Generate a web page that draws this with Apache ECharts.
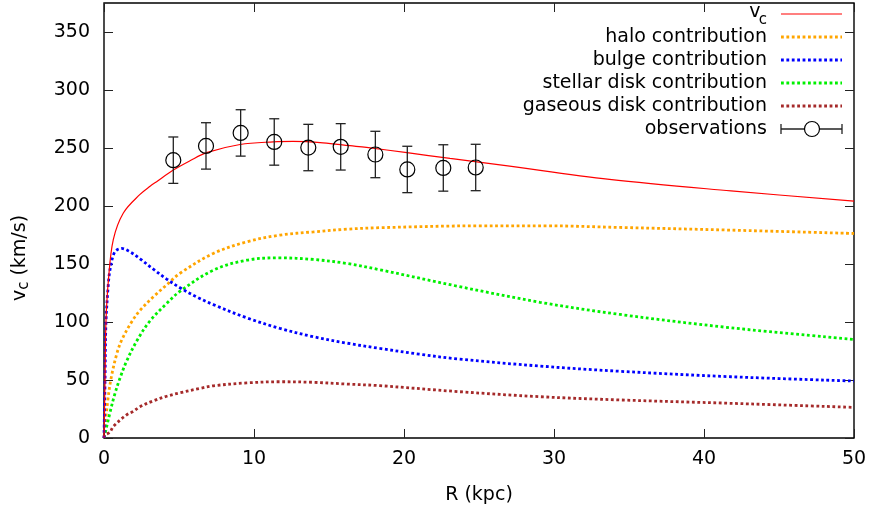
<!DOCTYPE html>
<html>
<head>
<meta charset="utf-8">
<script src="https://cdn.jsdelivr.net/npm/echarts@6/dist/echarts.min.js"></script>
<style>
  html, body { margin: 0; padding: 0; background: #fff; }
  #chart { width: 870px; height: 512px; }
</style>
</head>
<body>
<div id="chart"></div>
<script>
// Axis ticks
const xTicks = [0, 10, 20, 30, 40, 50];
const yTicks = [0, 50, 100, 150, 200, 250, 300, 350];

// Total circular velocity v_c (km/s) against R (kpc)
const vcR = [0, 0.07, 0.13, 0.3, 0.62, 1.29, 2.4, 3.07, 3.51, 4.62, 5.73, 6.84, 9.07, 11.29, 12.6, 14.6, 16.4, 17.5, 20.2, 23.07, 26.4, 33.7, 41.8, 50];
const vcV = [0, 50, 100, 137, 171, 194, 210, 217, 221, 231, 239, 246, 253, 255.3, 255.7, 254.5, 252, 250.5, 246, 241, 235.5, 222.9, 213, 204.2];

// Dark matter halo
const haloR = [0, 0.1, 0.25, 0.45, 0.84, 1.2, 1.84, 2.4, 3.29, 4.18, 5.07, 7.29, 9.51, 11.73, 13.96, 16.18, 18.4, 25.07, 29.5, 34.4, 41.8, 50];
const haloV = [0, 14, 32, 50, 72, 85, 100, 110, 121.7, 132, 142, 159.1, 169.1, 174.9, 177.7, 180, 181.3, 182.9, 182.9, 181.5, 179.2, 176.3];

// Bulge
const bulgeR = [0, 0.07, 0.13, 0.29, 0.4, 0.62, 0.84, 1.18, 1.73, 2.4, 3.29, 4.18, 5.07, 6.2, 7.29, 9.51, 11.73, 13.96, 16.18, 18.4, 21, 23.7, 29.07, 34.4, 41.8, 50];
const bulgeV = [0, 50, 99, 133, 145, 157.6, 162, 163.4, 160.5, 154.5, 145.5, 137, 129.5, 121.5, 115, 103.6, 94.5, 87.3, 81.8, 77.2, 72.3, 68, 62, 57.5, 52.8, 49.1];

// Stellar disk
const starR = [0, 0.1, 0.4, 0.7, 1.05, 1.5, 2.2, 3.07, 4.18, 5.07, 7.29, 9.51, 11.73, 13.96, 16.18, 18.4, 23.7, 29.07, 34.4, 41.8, 50];
const starV = [0, 5.5, 22, 37, 51, 66, 84, 101, 116, 126.5, 144.7, 153.3, 155.3, 153.9, 150.5, 145, 130.5, 117, 106.5, 95, 85];

// Gaseous disk
const gasR = [0, 0.07, 0.4, 0.62, 1.51, 1.96, 2.4, 3.29, 4.18, 5.07, 6.4, 7.29, 9.51, 11.73, 13.96, 16.18, 18.4, 23.7, 29.07, 34.4, 41.8, 50];
const gasV = [0, 2.6, 5, 10, 20, 23, 27, 32, 36, 39, 42.8, 45, 47.5, 48.5, 48, 46.5, 45.1, 39.9, 35.6, 32.8, 29.9, 26.4];

// Observed rotation curve with uncertainties
const obsR = [4.62, 6.8, 9.11, 11.35, 13.62, 15.78, 18.09, 20.22, 22.62, 24.78];
const obsV = [239.5, 251.8, 263.0, 255.2, 250.4, 251.0, 244.4, 231.5, 232.8, 233.2];
const obsErr = [20, 20, 20, 20, 20, 20, 20, 20, 20, 20];

const FONT = 'DejaVu Sans';
const FS = 19;
const DOT = [2.8, 2.6];
const pairs = (xs, ys) => xs.map((x, i) => [x, ys[i]]);

function curve(name, color, xs, ys, dotted) {
  return {
    name, type: 'line', data: pairs(xs, ys), showSymbol: false, smooth: 0.35,
    silent: true, animation: false, z: dotted ? 3 : 4,
    lineStyle: dotted
      ? { color, width: 2.8, type: DOT, cap: 'butt' }
      : { color, width: 1.2, type: 'solid' }
  };
}

const tickStyle = { inside: true, length: 9, lineStyle: { color: '#222', width: 1 } };
const noLine = { show: false, onZero: false };

const chart = echarts.init(document.getElementById('chart'), null, { renderer: 'canvas' });

// Legend rows
const legendRight = 767, sampleX1 = 781, sampleX2 = 842;
const legendRows = [
  { text: 'halo contribution', color: '#ffa500', y: 37 },
  { text: 'bulge contribution', color: '#0000ff', y: 60 },
  { text: 'stellar disk contribution', color: '#00f000', y: 83 },
  { text: 'gaseous disk contribution', color: '#a52a2a', y: 106 }
];
const graphics = [];
// v_c entry
graphics.push({ type: 'text', x: 760.5, y: 12, style: { text: 'v', font: FS + 'px "' + FONT + '"', fill: '#000', align: 'right', verticalAlign: 'middle' } });
graphics.push({ type: 'text', x: legendRight, y: 20, style: { text: 'c', font: '15px "' + FONT + '"', fill: '#000', align: 'right', verticalAlign: 'middle' } });
graphics.push({ type: 'line', shape: { x1: sampleX1, y1: 14, x2: sampleX2, y2: 14 }, style: { stroke: '#ff0000', lineWidth: 1.2 } });
legendRows.forEach(r => {
  graphics.push({ type: 'text', x: legendRight, y: r.y, style: { text: r.text, font: FS + 'px "' + FONT + '"', fill: '#000', align: 'right', verticalAlign: 'middle' } });
  graphics.push({ type: 'line', shape: { x1: sampleX1, y1: r.y, x2: sampleX2, y2: r.y }, style: { stroke: r.color, lineWidth: 2.8, lineDash: DOT } });
});
// observations entry
const oy = 129;
graphics.push({ type: 'text', x: legendRight, y: oy, style: { text: 'observations', font: FS + 'px "' + FONT + '"', fill: '#000', align: 'right', verticalAlign: 'middle' } });
graphics.push({ type: 'line', shape: { x1: sampleX1, y1: oy, x2: sampleX2, y2: oy }, style: { stroke: '#222', lineWidth: 1.3 } });
graphics.push({ type: 'line', shape: { x1: sampleX1, y1: oy - 5, x2: sampleX1, y2: oy + 5 }, style: { stroke: '#222', lineWidth: 1.3 } });
graphics.push({ type: 'line', shape: { x1: sampleX2, y1: oy - 5, x2: sampleX2, y2: oy + 5 }, style: { stroke: '#222', lineWidth: 1.3 } });
graphics.push({ type: 'circle', shape: { cx: 812, cy: oy, r: 7.5 }, style: { stroke: '#000', lineWidth: 1.2, fill: '#fff' } });

// Axis titles
graphics.push({ type: 'text', x: 479, y: 495, style: { text: 'R (kpc)', font: FS + 'px "' + FONT + '"', fill: '#000', align: 'center', verticalAlign: 'middle' } });
graphics.push({
  type: 'text', x: 20, y: 258, rotation: Math.PI / 2,
  style: {
    text: '{n|v}{s|c}{n| (km/s)}', align: 'center', verticalAlign: 'middle', fill: '#000',
    rich: {
      n: { fontFamily: FONT, fontSize: FS, lineHeight: 20, fill: '#000' },
      s: { fontFamily: FONT, fontSize: 15, lineHeight: 15, padding: [9, 0, 0, 0], fill: '#000' }
    }
  }
});

const option = {
  animation: false,
  backgroundColor: '#fff',
  grid: { left: 104, right: 16, top: 3, bottom: 74, show: true, borderColor: '#000', borderWidth: 1.4, backgroundColor: 'transparent' },
  xAxis: [
    {
      type: 'value', min: 0, max: 50, interval: 10, position: 'bottom',
      axisLine: noLine, splitLine: { show: false },
      axisTick: Object.assign({ customValues: xTicks }, tickStyle),
      axisLabel: { customValues: xTicks, fontFamily: FONT, fontSize: FS, color: '#000', margin: 12 }
    },
    {
      type: 'value', min: 0, max: 50, interval: 10, position: 'top',
      axisLine: noLine, splitLine: { show: false },
      axisTick: Object.assign({ customValues: xTicks }, tickStyle),
      axisLabel: { show: false }
    }
  ],
  yAxis: [
    {
      type: 'value', min: 0, max: 375, interval: 50, position: 'left',
      axisLine: noLine, splitLine: { show: false },
      axisTick: Object.assign({ customValues: yTicks }, tickStyle),
      axisLabel: { customValues: yTicks, fontFamily: FONT, fontSize: FS, color: '#000', margin: 14 }
    },
    {
      type: 'value', min: 0, max: 375, interval: 50, position: 'right',
      axisLine: noLine, splitLine: { show: false },
      axisTick: Object.assign({ customValues: yTicks }, tickStyle),
      axisLabel: { show: false }
    }
  ],
  series: [
    curve('halo contribution', '#ffa500', haloR, haloV, true),
    curve('stellar disk contribution', '#00f000', starR, starV, true),
    curve('gaseous disk contribution', '#a52a2a', gasR, gasV, true),
    curve('bulge contribution', '#0000ff', bulgeR, bulgeV, true),
    curve('v_c', '#ff0000', vcR, vcV, false),
    {
      name: 'observations', type: 'custom', animation: false, z: 5,
      data: obsR.map((r, i) => [r, obsV[i], obsErr[i]]),
      encode: { x: 0, y: 1 },
      renderItem(params, api) {
        const x = api.value(0), y = api.value(1), e = api.value(2);
        const c = api.coord([x, y]);
        const top = api.coord([x, y + e])[1];
        const bot = api.coord([x, y - e])[1];
        const hw = 5;
        const st = { stroke: '#222', lineWidth: 1.3 };
        return {
          type: 'group',
          children: [
            { type: 'line', shape: { x1: c[0], y1: top, x2: c[0], y2: bot }, style: st },
            { type: 'line', shape: { x1: c[0] - hw, y1: top, x2: c[0] + hw, y2: top }, style: st },
            { type: 'line', shape: { x1: c[0] - hw, y1: bot, x2: c[0] + hw, y2: bot }, style: st },
            { type: 'circle', shape: { cx: c[0], cy: c[1], r: 7.5 }, style: { stroke: '#000', lineWidth: 1.2, fill: 'transparent' } }
          ]
        };
      }
    }
  ],
  graphic: graphics
};

chart.setOption(option);
</script>
</body>
</html>
